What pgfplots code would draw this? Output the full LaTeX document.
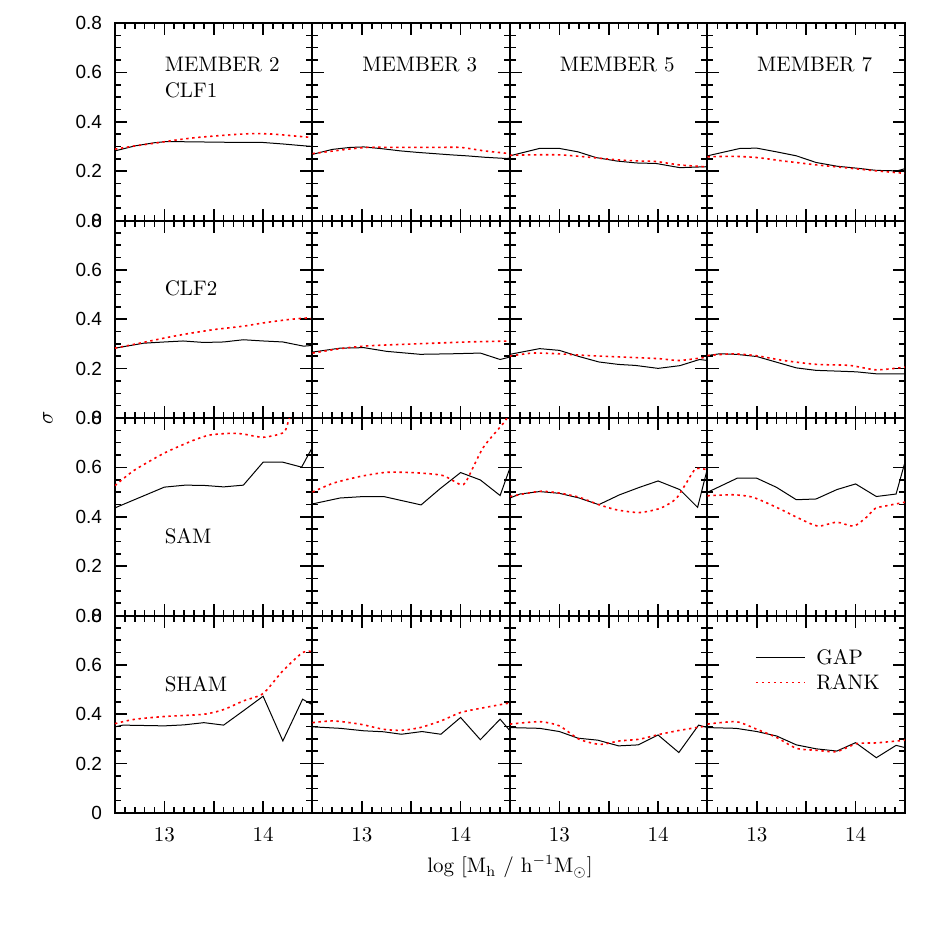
\documentclass[border=0pt]{standalone}
\usepackage{fontspec}
\newfontfamily\sansnum{Liberation Sans}
\usepackage{pgfplots}
\pgfplotsset{compat=1.18}
\usepgfplotslibrary{groupplots}

\pgfplotsset{
  panel/.style={
    width=98.75pt, height=98.75pt, scale only axis,
    xmin=12.5, xmax=14.5, ymin=0, ymax=0.8,
    xtick={13,13.5,14},
    minor xtick={12.6,12.7,12.8,12.9,13.1,13.2,13.3,13.4,13.6,13.7,13.8,13.9,14.1,14.2,14.3,14.4},
    ytick={0,0.2,0.4,0.6,0.8},
    minor ytick={0.05,0.1,0.15,0.25,0.3,0.35,0.45,0.5,0.55,0.65,0.7,0.75},
    tick align=inside, tick pos=both, xtick pos=both, ytick pos=both,
    xticklabel pos=bottom, yticklabel pos=left,
    major tick length=6pt, minor tick length=3pt,
    axis line style={line width=1pt},
    tick style={black, line width=0.8pt},
    xticklabels={}, yticklabels={},
  },
  leftcol/.style={
    yticklabels={0,0.2,0.4,0.6,0.8},
    yticklabel style={font=\fontsize{9.5}{11}\sansnum, xshift=-3pt},
  },
  bottomrow/.style={
    xticklabels={13,,14},
    xticklabel style={font=\fontsize{10.5}{12}\selectfont, yshift=-3.5pt},
  },
  gapline/.style={black, line width=0.5pt},
  rankline/.style={red, line width=0.8pt, dash pattern=on 1.2pt off 1.8pt, smooth, tension=0.4},
}
\newcommand{\lab}[3]{\node[anchor=west, inner sep=0pt, font=\fontsize{10.5}{12}\selectfont] at (axis cs:#1,#2) {#3};}

\begin{document}
\begin{tikzpicture}
\begin{groupplot}[
  group style={group size=4 by 4, horizontal sep=0pt, vertical sep=0pt},
  panel,
]

% ---- row 1: CLF1
\nextgroupplot[leftcol]
\addplot[gapline] coordinates {(12.5,0.282)(12.7,0.302)(12.9,0.315)(13.0,0.319)(13.2,0.319)(13.4,0.318)(13.6,0.317)(13.8,0.316)(14.0,0.316)(14.2,0.310)(14.4,0.303)(14.5,0.300)};
\addplot[rankline] coordinates {(12.5,0.289)(12.7,0.302)(12.9,0.313)(13.1,0.325)(13.3,0.335)(13.5,0.342)(13.7,0.348)(13.9,0.352)(14.1,0.350)(14.3,0.343)(14.5,0.336)};
\lab{13.0}{0.63}{MEMBER 2}
\lab{13.0}{0.528}{CLF1}

\nextgroupplot
\addplot[gapline] coordinates {(12.5,0.268)(12.7,0.288)(12.88,0.296)(13.02,0.298)(13.2,0.291)(13.39,0.282)(13.56,0.276)(13.73,0.271)(13.9,0.266)(14.06,0.262)(14.25,0.256)(14.47,0.251)(14.5,0.253)};
\addplot[rankline] coordinates {(12.5,0.271)(12.78,0.285)(13.05,0.296)(13.39,0.296)(13.73,0.296)(14.0,0.296)(14.24,0.282)(14.5,0.271)};
\lab{13.0}{0.63}{MEMBER 3}

\nextgroupplot
\addplot[gapline] coordinates {(12.5,0.262)(12.8,0.292)(13.0,0.292)(13.19,0.278)(13.37,0.255)(13.58,0.241)(13.78,0.233)(13.98,0.231)(14.22,0.214)(14.5,0.218)};
\addplot[rankline] coordinates {(12.5,0.264)(12.73,0.266)(13.0,0.266)(13.2,0.26)(13.41,0.252)(13.61,0.245)(13.81,0.241)(13.98,0.239)(14.22,0.225)(14.5,0.217)};
\lab{13.0}{0.63}{MEMBER 5}

\nextgroupplot
\addplot[gapline] coordinates {(12.5,0.262)(12.83,0.292)(13.0,0.293)(13.2,0.278)(13.4,0.262)(13.6,0.235)(13.81,0.22)(14.01,0.212)(14.21,0.203)(14.42,0.201)(14.5,0.21)};
\addplot[rankline] coordinates {(12.5,0.258)(12.76,0.26)(13.0,0.255)(13.27,0.241)(13.61,0.225)(13.94,0.212)(14.21,0.201)(14.5,0.191)};
\lab{13.0}{0.63}{MEMBER 7}

% ---- row 2: CLF2
\nextgroupplot[leftcol]
\addplot[gapline] coordinates {(12.5,0.283)(12.79,0.303)(13.0,0.308)(13.19,0.312)(13.4,0.306)(13.6,0.308)(13.8,0.317)(14.0,0.312)(14.2,0.308)(14.41,0.291)(14.5,0.294)};
\addplot[rankline] coordinates {(12.5,0.283)(12.75,0.303)(13.0,0.324)(13.23,0.341)(13.5,0.358)(13.8,0.372)(14.0,0.385)(14.24,0.398)(14.44,0.405)(14.5,0.402)};
\lab{13.0}{0.524}{CLF2}

\nextgroupplot
\addplot[gapline] coordinates {(12.5,0.267)(12.78,0.283)(13.02,0.285)(13.25,0.27)(13.59,0.258)(13.9,0.26)(14.2,0.263)(14.4,0.237)(14.5,0.247)};
\addplot[rankline] coordinates {(12.5,0.263)(12.78,0.281)(13.05,0.292)(13.39,0.298)(13.73,0.303)(14.07,0.308)(14.5,0.312)};

\nextgroupplot
\addplot[gapline] coordinates {(12.5,0.258)(12.8,0.281)(13.0,0.274)(13.2,0.249)(13.4,0.227)(13.6,0.217)(13.77,0.213)(14.0,0.201)(14.22,0.212)(14.42,0.237)(14.5,0.233)};
\addplot[rankline] coordinates {(12.5,0.251)(12.73,0.263)(13.0,0.26)(13.24,0.254)(13.51,0.249)(13.81,0.244)(14.02,0.24)(14.22,0.233)(14.5,0.247)};

\nextgroupplot
\addplot[gapline] coordinates {(12.5,0.253)(12.62,0.26)(12.79,0.258)(13.0,0.249)(13.2,0.226)(13.4,0.203)(13.6,0.193)(13.81,0.19)(14.01,0.187)(14.21,0.179)(14.5,0.179)};
\addplot[rankline] coordinates {(12.5,0.253)(12.76,0.26)(13.0,0.252)(13.27,0.233)(13.61,0.217)(13.94,0.213)(14.21,0.195)(14.5,0.206)};

% ---- row 3: SAM
\nextgroupplot[leftcol]
\addplot[gapline] coordinates {(12.5,0.436)(13.0,0.52)(13.21,0.528)(13.4,0.527)(13.6,0.521)(13.8,0.528)(14.0,0.621)(14.2,0.621)(14.39,0.601)(14.5,0.682)};
\addplot[rankline] coordinates {(12.5,0.526)(12.69,0.587)(13.0,0.658)(13.29,0.709)(13.46,0.731)(13.67,0.738)(13.8,0.735)(14.0,0.722)(14.21,0.742)(14.27,0.803)(14.4,0.9)(14.5,0.95)};
\lab{13.0}{0.32}{SAM}

\nextgroupplot
\addplot[gapline] coordinates {(12.5,0.452)(12.78,0.476)(13.02,0.482)(13.22,0.482)(13.6,0.448)(13.79,0.513)(14.0,0.579)(14.2,0.549)(14.4,0.486)(14.5,0.598)};
\addplot[rankline] coordinates {(12.5,0.5)(12.71,0.536)(12.98,0.563)(13.25,0.58)(13.55,0.578)(13.82,0.567)(14.0,0.53)(14.06,0.546)(14.23,0.681)(14.45,0.787)(14.5,0.83)};

\nextgroupplot
\addplot[gapline] coordinates {(12.5,0.476)(12.6,0.492)(12.8,0.502)(13.0,0.495)(13.2,0.476)(13.4,0.449)(13.61,0.489)(13.81,0.519)(14.0,0.545)(14.22,0.51)(14.4,0.438)(14.5,0.596)};
\addplot[rankline] coordinates {(12.5,0.482)(12.8,0.503)(13.0,0.496)(13.2,0.479)(13.4,0.449)(13.58,0.428)(13.81,0.417)(14.02,0.434)(14.18,0.472)(14.28,0.533)(14.38,0.594)(14.5,0.59)};

\nextgroupplot
\addplot[gapline] coordinates {(12.5,0.499)(12.8,0.556)(13.0,0.556)(13.2,0.519)(13.4,0.469)(13.6,0.472)(13.81,0.51)(14.0,0.533)(14.21,0.482)(14.41,0.492)(14.5,0.621)};
\addplot[rankline] coordinates {(12.5,0.485)(12.76,0.489)(12.96,0.479)(13.2,0.438)(13.44,0.391)(13.62,0.362)(13.81,0.378)(13.98,0.362)(14.11,0.398)(14.2,0.434)(14.32,0.445)(14.5,0.459)};

% ---- row 4: SHAM
\nextgroupplot[leftcol, bottomrow]
\addplot[gapline] coordinates {(12.5,0.349)(12.58,0.356)(13.0,0.353)(13.2,0.357)(13.4,0.366)(13.6,0.356)(13.8,0.414)(14.0,0.473)(14.2,0.292)(14.4,0.461)(14.5,0.438)};
\addplot[rankline] coordinates {(12.5,0.362)(12.69,0.379)(13.0,0.391)(13.4,0.40)(13.6,0.419)(13.8,0.454)(14.0,0.484)(14.2,0.576)(14.4,0.65)(14.5,0.654)};
\lab{13.0}{0.52}{SHAM}

\nextgroupplot[bottomrow]
\addplot[gapline] coordinates {(12.5,0.349)(12.78,0.343)(13.02,0.333)(13.22,0.329)(13.4,0.319)(13.61,0.33)(13.8,0.319)(14.0,0.387)(14.2,0.297)(14.4,0.38)(14.5,0.333)};
\addplot[rankline] coordinates {(12.5,0.366)(12.71,0.373)(12.98,0.36)(13.22,0.339)(13.4,0.335)(13.59,0.346)(13.8,0.373)(14.0,0.407)(14.2,0.424)(14.5,0.446)};

\nextgroupplot[bottomrow]
\addplot[gapline] coordinates {(12.5,0.346)(12.8,0.343)(13.0,0.33)(13.19,0.303)(13.39,0.295)(13.6,0.272)(13.8,0.276)(14.0,0.316)(14.21,0.245)(14.41,0.356)(14.5,0.346)};
\addplot[rankline] coordinates {(12.5,0.36)(12.8,0.37)(13.0,0.353)(13.2,0.299)(13.41,0.278)(13.61,0.292)(13.81,0.299)(14.02,0.319)(14.22,0.335)(14.5,0.353)};

\nextgroupplot[bottomrow]
\addplot[gapline] coordinates {(12.5,0.346)(12.79,0.343)(13.0,0.33)(13.2,0.312)(13.4,0.276)(13.6,0.26)(13.81,0.251)(14.0,0.285)(14.21,0.224)(14.41,0.274)(14.5,0.265)};
\addplot[rankline] coordinates {(12.5,0.36)(12.79,0.37)(13.0,0.339)(13.2,0.306)(13.4,0.262)(13.6,0.254)(13.81,0.249)(14.01,0.281)(14.21,0.284)(14.5,0.295)};
% legend
\addplot[gapline, forget plot] coordinates {(12.99,0.63)(13.49,0.63)};
\addplot[red, line width=0.8pt, dash pattern=on 1.2pt off 1.8pt, forget plot] coordinates {(12.99,0.528)(13.49,0.528)};
\lab{13.6}{0.63}{GAP}
\lab{13.6}{0.528}{RANK}
\end{groupplot}

\node[rotate=90, font=\fontsize{10.5}{12}\selectfont] at ([xshift=-33.5pt]group c1r2.south west) {$\sigma$};
\node[font=\fontsize{10.5}{12}\selectfont] at ([yshift=-27pt]group c2r4.south east) {log [M$_\mathrm{h}$ / h$^{-1}$M$_\odot$]};
\path ([xshift=-57.5pt,yshift=11.5pt]group c1r1.north west) rectangle ([xshift=10.5pt,yshift=-56.5pt]group c4r4.south east);
\end{tikzpicture}
\end{document}
